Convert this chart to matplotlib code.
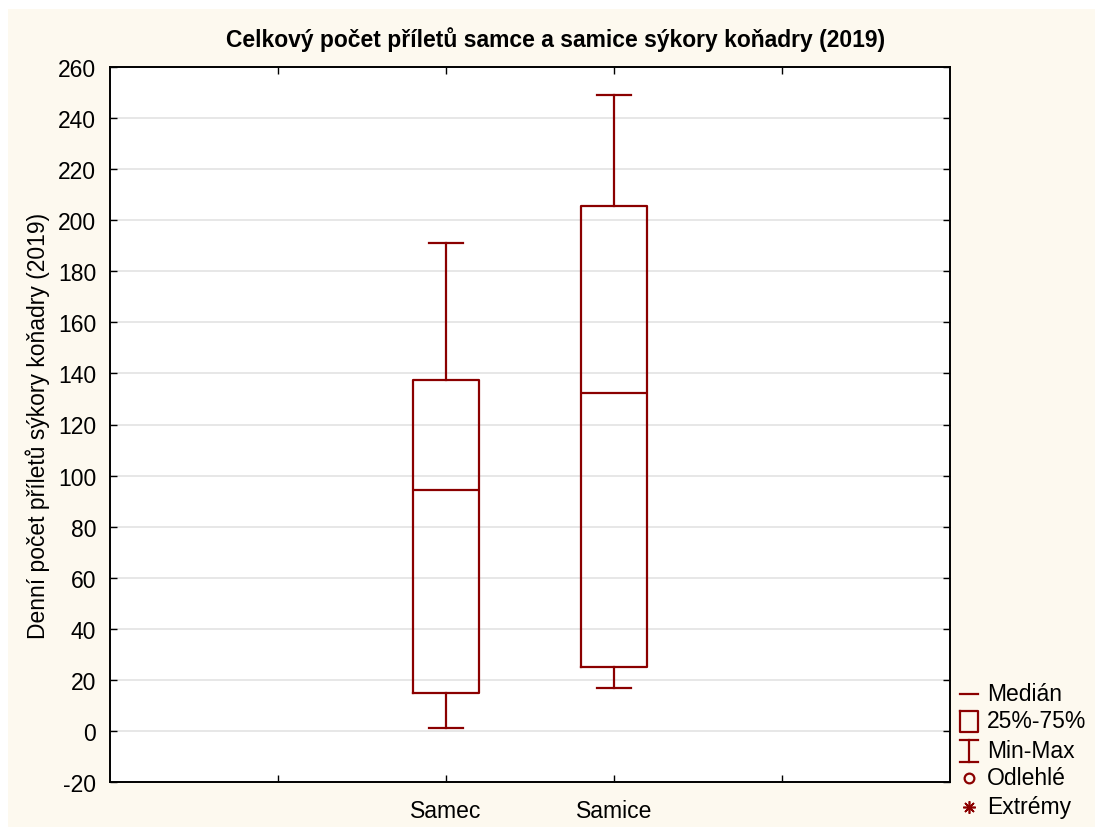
"""Box plot of daily arrivals, male vs female great tit (2019), Statistica style."""

import matplotlib
matplotlib.use("Agg")
import matplotlib.pyplot as plt
from matplotlib.lines import Line2D
from matplotlib.patches import Rectangle

plt.rcParams["font.family"] = ["Liberation Sans", "DejaVu Sans"]
plt.rcParams["axes.unicode_minus"] = False

# data
groups = ["Samec", "Samice"]
positions = [2, 3]
minimum = [1, 17]
q1 = [15, 25]
median = [94.5, 132.5]
q3 = [137.5, 205.5]
maximum = [191, 249]

title = "Celkový počet příletů samce a samice sýkory koňadry (2019)"
ylabel = "Denní počet příletů sýkory koňadry (2019)"
legend_labels = ["Medián", "25%-75%", "Min-Max", "Odlehlé", "Extrémy"]

RED = "#8b0000"
CREAM = "#fdf9ef"
GRID = "#e3e3e3"
W, H = 1095, 828


def fx(px):
    return px / W


def fy(py):
    return 1 - py / H


def main():
    fig = plt.figure(figsize=(W / 100, H / 100), dpi=100, facecolor="white")
    fig.patches.append(Rectangle((fx(8), 0), 1, fy(10), transform=fig.transFigure,
                                 facecolor=CREAM, edgecolor="none", zorder=-10))

    ax = fig.add_axes([fx(110), fy(783), 840 / W, 715 / H])
    ax.set_facecolor("white")

    stats = []
    for i, g in enumerate(groups):
        stats.append(dict(label=g, med=median[i], q1=q1[i], q3=q3[i],
                          whislo=minimum[i], whishi=maximum[i], fliers=[]))
    lp = dict(color=RED, linewidth=1.6)
    ax.bxp(stats, positions=positions, widths=0.39, capwidths=0.2,
           showfliers=False, boxprops=lp, whiskerprops=lp, capprops=lp,
           medianprops=lp, manage_ticks=False, zorder=3)

    ax.set_xlim(0, 5)
    ax.set_ylim(-20, 260)
    ax.set_yticks(range(-20, 261, 20))
    ax.set_xticks([1, 2, 3, 4])
    ax.set_xticklabels(["", groups[0], groups[1], ""])
    ax.yaxis.grid(True, color=GRID, linewidth=1.2, zorder=0)
    ax.set_axisbelow(True)
    ax.tick_params(direction="in", length=5, width=1, labelsize=16.5,
                   top=True, right=True)
    ax.tick_params(axis="y", pad=10)
    ax.tick_params(axis="x", pad=12)
    for s in ax.spines.values():
        s.set_linewidth(1.4)

    # title sits over the whole sheet, not just the axes
    fig.text(fx(556), fy(40), title, fontsize=16.5, fontweight="bold",
             ha="center", va="center")
    ax.set_ylabel(ylabel, fontsize=16.5, labelpad=6)

    # legend, drawn by hand at the reference positions
    hx = 969
    rows = [695, 722, 752, 779, 808]
    kw = dict(color=RED, linewidth=1.6, transform=fig.transFigure)
    fig.add_artist(Line2D([fx(960), fx(978)], [fy(rows[0])] * 2, **kw))
    fig.add_artist(Line2D([fx(960), fx(978), fx(978), fx(960), fx(960)],
                          [fy(712), fy(712), fy(733), fy(733), fy(712)], **kw))
    fig.add_artist(Line2D([fx(hx), fx(hx)], [fy(741), fy(763)], **kw))
    fig.add_artist(Line2D([fx(960), fx(978)], [fy(741)] * 2, **kw))
    fig.add_artist(Line2D([fx(960), fx(978)], [fy(763)] * 2, **kw))
    fig.add_artist(Line2D([fx(hx)], [fy(rows[3])], linestyle="none", marker="o",
                          markersize=7, markerfacecolor="none",
                          markeredgecolor=RED, markeredgewidth=1.6,
                          transform=fig.transFigure))
    fig.add_artist(Line2D([fx(hx)], [fy(rows[4])], linestyle="none",
                          marker=(8, 2, 0), markersize=9, markeredgecolor=RED,
                          markeredgewidth=1.2, transform=fig.transFigure))
    for lab, r in zip(legend_labels, rows):
        fig.text(fx(987), fy(r), lab, fontsize=16.5, ha="left", va="center")

    fig.savefig("out.png", dpi=100, facecolor=fig.get_facecolor())


if __name__ == "__main__":
    main()
